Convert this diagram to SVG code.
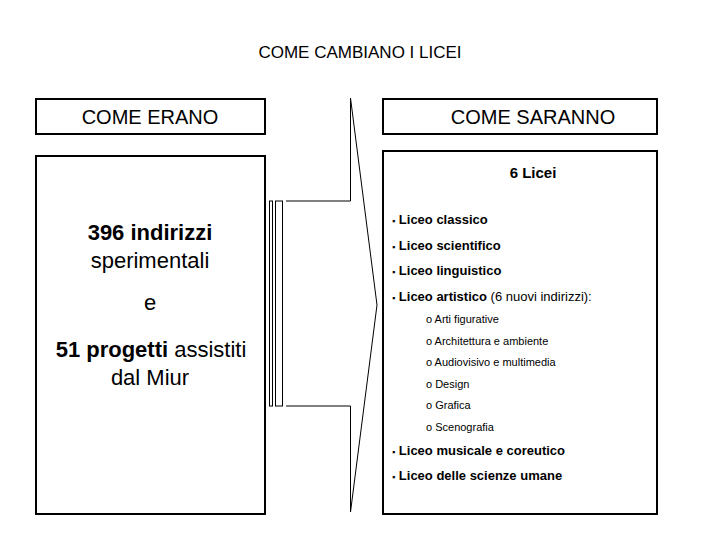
<svg xmlns="http://www.w3.org/2000/svg" width="720" height="540" viewBox="0 0 720 540">
<style>
text{font-family:"Liberation Sans",Arial,sans-serif;fill:#000}
.box{fill:#fff;stroke:#000;stroke-width:2}
.it{font-size:13px}
.it .b{font-weight:bold}
.sub{font-size:11px}
.big{font-size:22px}
</style>
<rect width="720" height="540" fill="#fff"/>
<text x="360" y="58" font-size="17" text-anchor="middle">COME CAMBIANO I LICEI</text>
<g id="erano-h"><rect class="box" x="36" y="99" width="229" height="35"/><text x="150" y="124" font-size="20" text-anchor="middle">COME ERANO</text></g>
<g id="saranno-h"><rect class="box" x="383" y="99" width="274" height="35"/><text x="533" y="124" font-size="20" text-anchor="middle">COME SARANNO</text></g>
<g id="erano"><rect class="box" x="36" y="156" width="229" height="358"/>
<text class="big" x="150" y="240" text-anchor="middle"><tspan font-weight="bold">396 indirizzi</tspan></text>
<text class="big" x="150" y="268" text-anchor="middle">sperimentali</text>
<text class="big" x="150" y="310" text-anchor="middle">e</text>
<text class="big" x="151" y="357" text-anchor="middle"><tspan font-weight="bold">51 progetti</tspan> assistiti</text>
<text class="big" x="150" y="385" text-anchor="middle">dal Miur</text>
</g>
<g id="arrow" fill="none" stroke="#000">
<rect x="269.5" y="201" width="3" height="205"/>
<rect x="275.5" y="201" width="7" height="205"/>
<path d="M286 201 H350.5 V98 L377 305 L350.5 512 V406 H286"/>
</g>
<g id="saranno"><rect class="box" x="383" y="151" width="274" height="363"/>
<text x="533" y="178" font-size="15" font-weight="bold" text-anchor="middle">6 Licei</text>
<g class="it">
<text x="392" y="224"><tspan font-size="9">▪</tspan> <tspan class="b">Liceo classico</tspan></text>
<text x="392" y="250"><tspan font-size="9">▪</tspan> <tspan class="b">Liceo scientifico</tspan></text>
<text x="392" y="275"><tspan font-size="9">▪</tspan> <tspan class="b">Liceo linguistico</tspan></text>
<text x="392" y="301"><tspan font-size="9">▪</tspan> <tspan class="b">Liceo artistico</tspan> (6 nuovi indirizzi):</text>
<text x="392" y="455"><tspan font-size="9">▪</tspan> <tspan class="b">Liceo musicale e coreutico</tspan></text>
<text x="392" y="480"><tspan font-size="9">▪</tspan> <tspan class="b">Liceo delle scienze umane</tspan></text>
</g>
<g class="sub">
<text x="426" y="323">o Arti figurative</text>
<text x="426" y="345">o Architettura e ambiente</text>
<text x="426" y="366">o Audiovisivo e multimedia</text>
<text x="426" y="388">o Design</text>
<text x="426" y="409">o Grafica</text>
<text x="426" y="431">o Scenografia</text>
</g>
</g>
</svg>
